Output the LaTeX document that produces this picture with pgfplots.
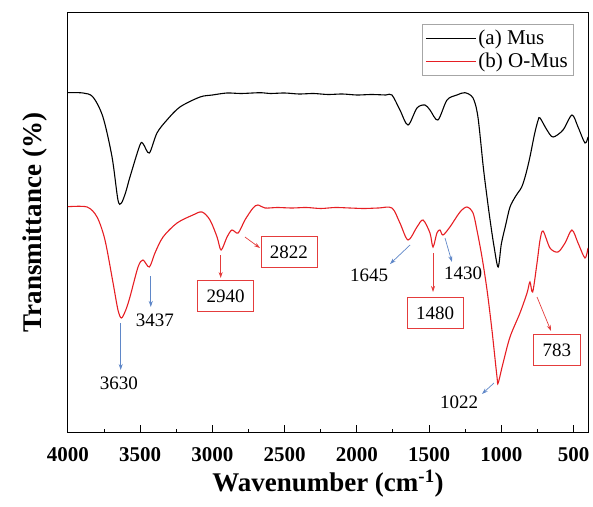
\documentclass[border=0pt]{standalone}
\usepackage{pgfplots}
\pgfplotsset{compat=1.18}
\usepackage{fontspec}
\setmainfont{Liberation Serif}
\usetikzlibrary{arrows.meta}
\definecolor{cred}{RGB}{230,30,35}
\definecolor{ared}{RGB}{228,60,60}
\definecolor{ablue}{RGB}{95,135,200}
\begin{document}
\begin{tikzpicture}
\begin{axis}[name=ax, scale only axis, width=520pt, height=419pt,
  x dir=reverse, xmin=400, xmax=4000, ymin=0, ymax=419,
  xtick={500,1000,...,4000}, minor x tick num=1, xtick pos=bottom, ytick=\empty,
  tick align=inside, major tick length=7pt, minor tick length=3.5pt,
  every tick/.style={black, line width=1pt},
  axis line style={line width=1pt},
  /pgf/number format/assume math mode=true, /pgf/number format/1000 sep={},
  xticklabel style={font=\bfseries\fontsize{21}{21}\selectfont, inner sep=0pt, yshift=-15pt},
  xlabel={Wavenumber (cm\textsuperscript{-1})},
  xlabel style={font=\bfseries\fontsize{27}{27}\selectfont, at={(axis description cs:0.5,-0.09)}, anchor=north, inner sep=0pt},
  ylabel={Transmittance (\%)},
  ylabel style={font=\bfseries\fontsize{27}{27}\selectfont, at={(axis description cs:-0.04,0.5)}, anchor=south, inner sep=0pt},
  legend style={draw=gray!70, at={(0.971,0.974)}, anchor=north east, font=\fontsize{21}{24}\selectfont, inner xsep=3pt, inner ysep=4pt, row sep=3pt},
  legend cell align=left,
  legend image code/.code={\draw[#1] (0pt,0pt) -- (50pt,0pt);},
]
\addplot[black, line width=1.1pt, smooth, tension=0.5] coordinates {
(4000,339.3)(3896,339)(3827,335)(3758,315)(3695,275)(3654,232)(3630,229)(3600,240)(3571,255)(3502,287)(3479,288)(3437,279)(3384,299)(3315,312)(3225,325)(3086,335)(3000,337)(2899,339)(2800,338.5)(2671,339.3)(2600,338.5)(2500,339)(2400,338)(2300,338.5)(2200,337.5)(2100,338)(2000,337)(1900,337.5)(1800,337)(1757,337)(1702,322)(1646,307)(1584,324)(1529,327)(1494,322)(1439,312)(1376,332)(1307,337)(1252,339.3)(1196,334)(1162,315)(1125,265)(1101,237)(1078,212)(1050,185)(1022,165)(1000,188)(970,207)(940,225)(900,236)(859,245)(830,258)(802,275)(770,298)(745,312)(732,314)(684,302)(642,295)(573,302)(511,317)(469,305)(421,289)(400,295)
};
\addlegendentry{(a) Mus}
\addplot[cred, line width=1.1pt, smooth, tension=0.5] coordinates {
(4000,225.3)(3868,225)(3799,215)(3744,192)(3688,149)(3654,122)(3630,114)(3600,122)(3571,135)(3515,165)(3481,172)(3437,165)(3398,179)(3342,195)(3245,209)(3135,217)(3072,220)(3017,212)(2968,195)(2940,182)(2899,195)(2865,202)(2822,199)(2775,212)(2719,224)(2685,227)(2636,224)(2550,224.5)(2450,224)(2350,224.5)(2250,223.5)(2150,224.5)(2050,224)(1950,223.5)(1850,224)(1757,224)(1702,209)(1646,192)(1584,205)(1542,212)(1494,199)(1473,185)(1446,199)(1425,202)(1404,197)(1356,205)(1286,220)(1238,225)(1196,219)(1169,202)(1134,175)(1099,142)(1065,102)(1030,55)(1022,49)(988,69)(940,95)(871,119)(822,139)(802,150)(783,140)(753,169)(732,192)(711,201)(663,184)(608,180)(559,189)(511,202)(469,189)(421,174)(400,184)
};
\addlegendentry{(b) O-Mus}
% annotations
\tikzset{barr/.style={ablue, line width=0.7pt, -{Stealth[length=6pt,width=4pt]}},
         rarr/.style={ared, line width=0.7pt, -{Stealth[length=6pt,width=4pt]}},
         lab/.style={font=\fontsize{19}{19}\selectfont, inner sep=0pt},
         rbox/.style={draw=ared, line width=0.8pt, minimum width=56pt, minimum height=31pt, inner sep=0pt, font=\fontsize{19}{19}\selectfont}}
\draw[barr] (axis cs:3635,109) -- (axis cs:3635,62);
\node[lab] at (axis cs:3647,49) {3630};
\draw[barr] (axis cs:3427,156) -- (axis cs:3427,125);
\node[lab] at (axis cs:3398,112) {3437};
\draw[rarr] (axis cs:2943,177) -- (axis cs:2943,154);
\node[rbox] at (axis cs:2908,136) {2940};
\draw[rarr] (axis cs:2775,195) -- (axis cs:2671,184);
\node[rbox] at (axis cs:2470,180) {2822};
\draw[barr] (axis cs:1632,187) -- (axis cs:1771,168);
\node[lab] at (axis cs:1916,157) {1645};
\draw[rarr] (axis cs:1473,179) -- (axis cs:1473,140);
\node[rbox] at (axis cs:1459,119) {1480};
\draw[barr] (axis cs:1390,194) -- (axis cs:1342,170);
\node[lab] at (axis cs:1265,159) {1430};
\draw[barr] (axis cs:1051,49) -- (axis cs:1134,38);
\node[lab] at (axis cs:1293,30) {1022};
\draw[rarr] (axis cs:753,135) -- (axis cs:656,101);
\node[rbox, minimum width=47pt] at (axis cs:615,82) {783};
\end{axis}
\pgfresetboundingbox
\path[use as bounding box] ([shift={(-68pt,-74pt)}]ax.south west) rectangle ([shift={(5pt,13pt)}]ax.north east);
\end{tikzpicture}
\end{document}
